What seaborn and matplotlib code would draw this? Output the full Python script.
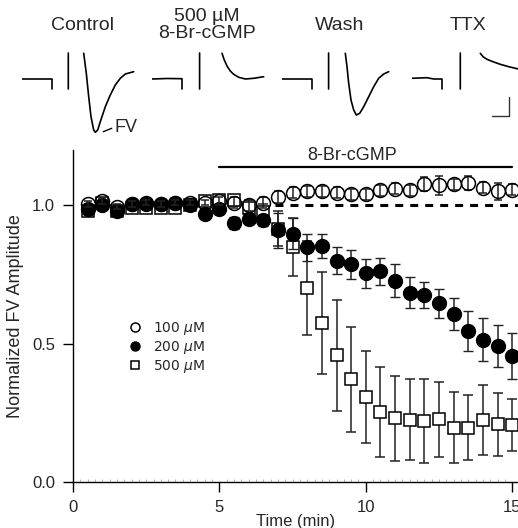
import numpy as np
import matplotlib
matplotlib.use("Agg")
import matplotlib.pyplot as plt
import seaborn as sns

# ---- time course data ----
time_min = np.arange(0.5, 15.01, 0.5)

amp_100 = [1.005, 1.015, 0.995, 1.005, 1.01, 1.005, 1.01, 1.01, 1.01, 1.015,
           1.01, 1.0, 1.01, 1.03, 1.045, 1.05, 1.05, 1.045, 1.04, 1.04,
           1.054, 1.06, 1.054, 1.076, 1.072, 1.076, 1.08, 1.064, 1.05, 1.057]
err_100 = [0.01, 0.01, 0.01, 0.01, 0.01, 0.01, 0.01, 0.01, 0.01, 0.015,
           0.02, 0.02, 0.02, 0.02, 0.02, 0.02, 0.02, 0.02, 0.02, 0.02,
           0.02, 0.02, 0.02, 0.025, 0.034, 0.02, 0.025, 0.02, 0.03, 0.02]

amp_200 = [0.988, 1.0, 0.98, 1.006, 1.003, 1.006, 1.008, 1.0, 0.97, 0.988,
           0.936, 0.952, 0.946, 0.91, 0.898, 0.848, 0.852, 0.80, 0.787, 0.755,
           0.762, 0.728, 0.684, 0.675, 0.646, 0.607, 0.545, 0.515, 0.49, 0.455]
err_200 = [0.01, 0.01, 0.01, 0.01, 0.01, 0.01, 0.01, 0.01, 0.015, 0.015,
           0.02, 0.02, 0.02, 0.063, 0.057, 0.048, 0.044, 0.048, 0.053, 0.052,
           0.049, 0.06, 0.056, 0.047, 0.052, 0.059, 0.072, 0.076, 0.076, 0.082]

amp_500 = [0.98, 1.01, 0.98, 0.99, 0.99, 0.99, 0.99, 1.0, 1.015, 1.018,
           1.018, 0.99, 0.976, 0.915, 0.85, 0.70, 0.575, 0.458, 0.371, 0.308,
           0.252, 0.23, 0.226, 0.221, 0.227, 0.197, 0.197, 0.224, 0.208, 0.206]
err_500 = [0.01, 0.01, 0.01, 0.01, 0.01, 0.01, 0.01, 0.01, 0.015, 0.015,
           0.02, 0.03, 0.03, 0.063, 0.105, 0.17, 0.185, 0.2, 0.19, 0.167,
           0.162, 0.155, 0.146, 0.152, 0.135, 0.129, 0.116, 0.126, 0.115, 0.095]

drug_bar = [5.0, 15.0]
baseline_ref = [6.9, 15.2]

# ---- example field potential traces (arbitrary units) ----
nan = np.nan
ctrl_x = [0, 30, 30, nan, 46.3, 46.3, nan, 61.7, 64.3, 66.7, 69, 71.7, 73.3, 75.7,
          78.3, 83.3, 88.3, 93.3, 98.3, 103.3, 111.7]
ctrl_y = [0, 0, -10, nan, 26, -10, nan, 25.7, 5.7, -17.7, -37.7, -51, -53.3, -51,
          -42.7, -27.7, -16, -6, 0.7, 5, 7.3]

drug_x = [0, 15, 30, 30, nan, 47.6, 47.6, nan, 70, 72.3, 75, 78.3, 81.7, 86.7,
          93.3, 101.7, 111.7]
drug_y = [0, 0.5, 0.3, -10, nan, 26, -10, nan, 25.7, 19, 13, 8, 4.7, 1.7,
          0, 0.7, 2.3]

wash_x = [0, 30, 30, nan, 46.6, 46.6, nan, 63.3, 65, 66.7, 69, 71.7, 74.3, 77.7,
          81.7, 86.7, 91.7, 96.7, 101.7, 106.7]
wash_y = [0, 0, -10, nan, 26, -10, nan, 25.7, 12.3, -4.3, -21, -31, -36, -34.3,
          -27.7, -17.7, -7.7, 0.7, 5, 7.3]

ttx_x = [0, 15, 21.7, 30, 30, nan, 48.3, 48.3, nan, 68.3, 71, 75, 81.7, 88.3,
         96.7, 106.3, 121.7]
ttx_y = [0.7, 1.3, 0, 0, -10, nan, 26, -10, nan, 25.7, 22.3, 19.7, 17, 14.7,
         12.3, 10, 8]

trace_titles = ["Control", "500 µM\n8-Br-cGMP", "Wash", "TTX"]

sns.set_style("ticks")
plt.rcParams['font.family'] = ['Liberation Sans', 'DejaVu Sans']

fig = plt.figure(figsize=(5.18, 5.28), dpi=100)

# ---- main time course ----
ax = fig.add_axes([0.141, 0.087, 0.859, 0.629])

ax.errorbar(time_min, amp_500, yerr=err_500, fmt='s', ms=9, mfc='white', mec='black',
            mew=1.1, ecolor='#222222', elinewidth=1.1, capsize=3.5, capthick=1.1,
            label='500 $\\mu$M', zorder=3)
ax.errorbar(time_min, amp_200, yerr=err_200, fmt='o', ms=10, mfc='black', mec='black',
            mew=1.0, ecolor='#222222', elinewidth=1.1, capsize=3.5, capthick=1.1,
            label='200 $\\mu$M', zorder=4)
ax.errorbar(time_min, amp_100, yerr=err_100, fmt='o', ms=10, mfc='none', mec='black',
            mew=1.1, ecolor='#222222', elinewidth=1.1, capsize=3.0, capthick=1.1,
            label='100 $\\mu$M', zorder=5)

ax.plot(baseline_ref, [1.0, 1.0], color='black', lw=2.2, ls=(0, (2.6, 2.3)), zorder=2)
ax.plot(drug_bar, [1.14, 1.14], color='black', lw=1.6, clip_on=False)
ax.text(np.mean(drug_bar) - 0.45, 1.15, "8-Br-cGMP", ha='center', va='bottom', fontsize=13)

ax.set_xlim(0, 15.2)
ax.set_ylim(0, 1.2)
ax.set_xticks([0, 5, 10, 15])
ax.set_yticks([0.0, 0.5, 1.0])
ax.set_yticklabels(["0.0", "0.5", "1.0"])
ax.set_xticks(np.arange(0, 15.2, 0.25), minor=True)
ax.tick_params(axis='both', which='major', direction='out', length=7, width=1,
               labelsize=12, pad=6, color='black')
ax.tick_params(axis='x', which='minor', direction='in', length=2, width=0.5,
               color='#999999')
ax.set_xlabel("Time (min)", fontsize=12, labelpad=-1)
ax.set_ylabel("Normalized FV Amplitude", fontsize=13, labelpad=6)
sns.despine(ax=ax)
for s in ['left', 'bottom']:
    ax.spines[s].set_linewidth(1.0)
    ax.spines[s].set_color('black')

handles, labels = ax.get_legend_handles_labels()
order = [2, 1, 0]
leg = ax.legend([handles[i][0] for i in order], [labels[i] for i in order],
                loc='upper left', bbox_to_anchor=(0.095, 0.525), frameon=False,
                markerscale=0.65, handlelength=1.0, handletextpad=0.8,
                labelspacing=0.12, prop={'family': 'DejaVu Sans', 'size': 10})

# ---- example traces ----
traces = [(ctrl_x, ctrl_y), (drug_x, drug_y), (wash_x, wash_y), (ttx_x, ttx_y)]
offsets_px = [22, 152, 282, 412]
title_x = [60, 55, 58, 56]
for (tx, ty), off, title, tlx in zip(traces, offsets_px, trace_titles, title_x):
    tax = fig.add_axes([off / 518, 1 - 150 / 528, 115 / 518, 150 / 528])
    tax.plot(tx, ty, color='black', lw=1.2)
    tax.set_xlim(0, 115)
    tax.set_ylim(-71, 79)
    tax.axis('off')
    if "\n" in title:
        tax.text(tlx, 54, title, ha='center', va='center', fontsize=14, linespacing=0.95)
    else:
        tax.text(tlx, 54, title, ha='center', va='center', fontsize=14)
    if title == "Control":
        tax.plot([81.3, 89.7], [-52.7, -49.3], color='black', lw=1)
        tax.text(92, -49, "FV", ha='left', va='center', fontsize=13)
    if title == "TTX":
        tax.plot([80, 96.7, 96.7], [-37, -37, -17.7], color='#333333', lw=1)

fig.savefig("out.png", dpi=100)
